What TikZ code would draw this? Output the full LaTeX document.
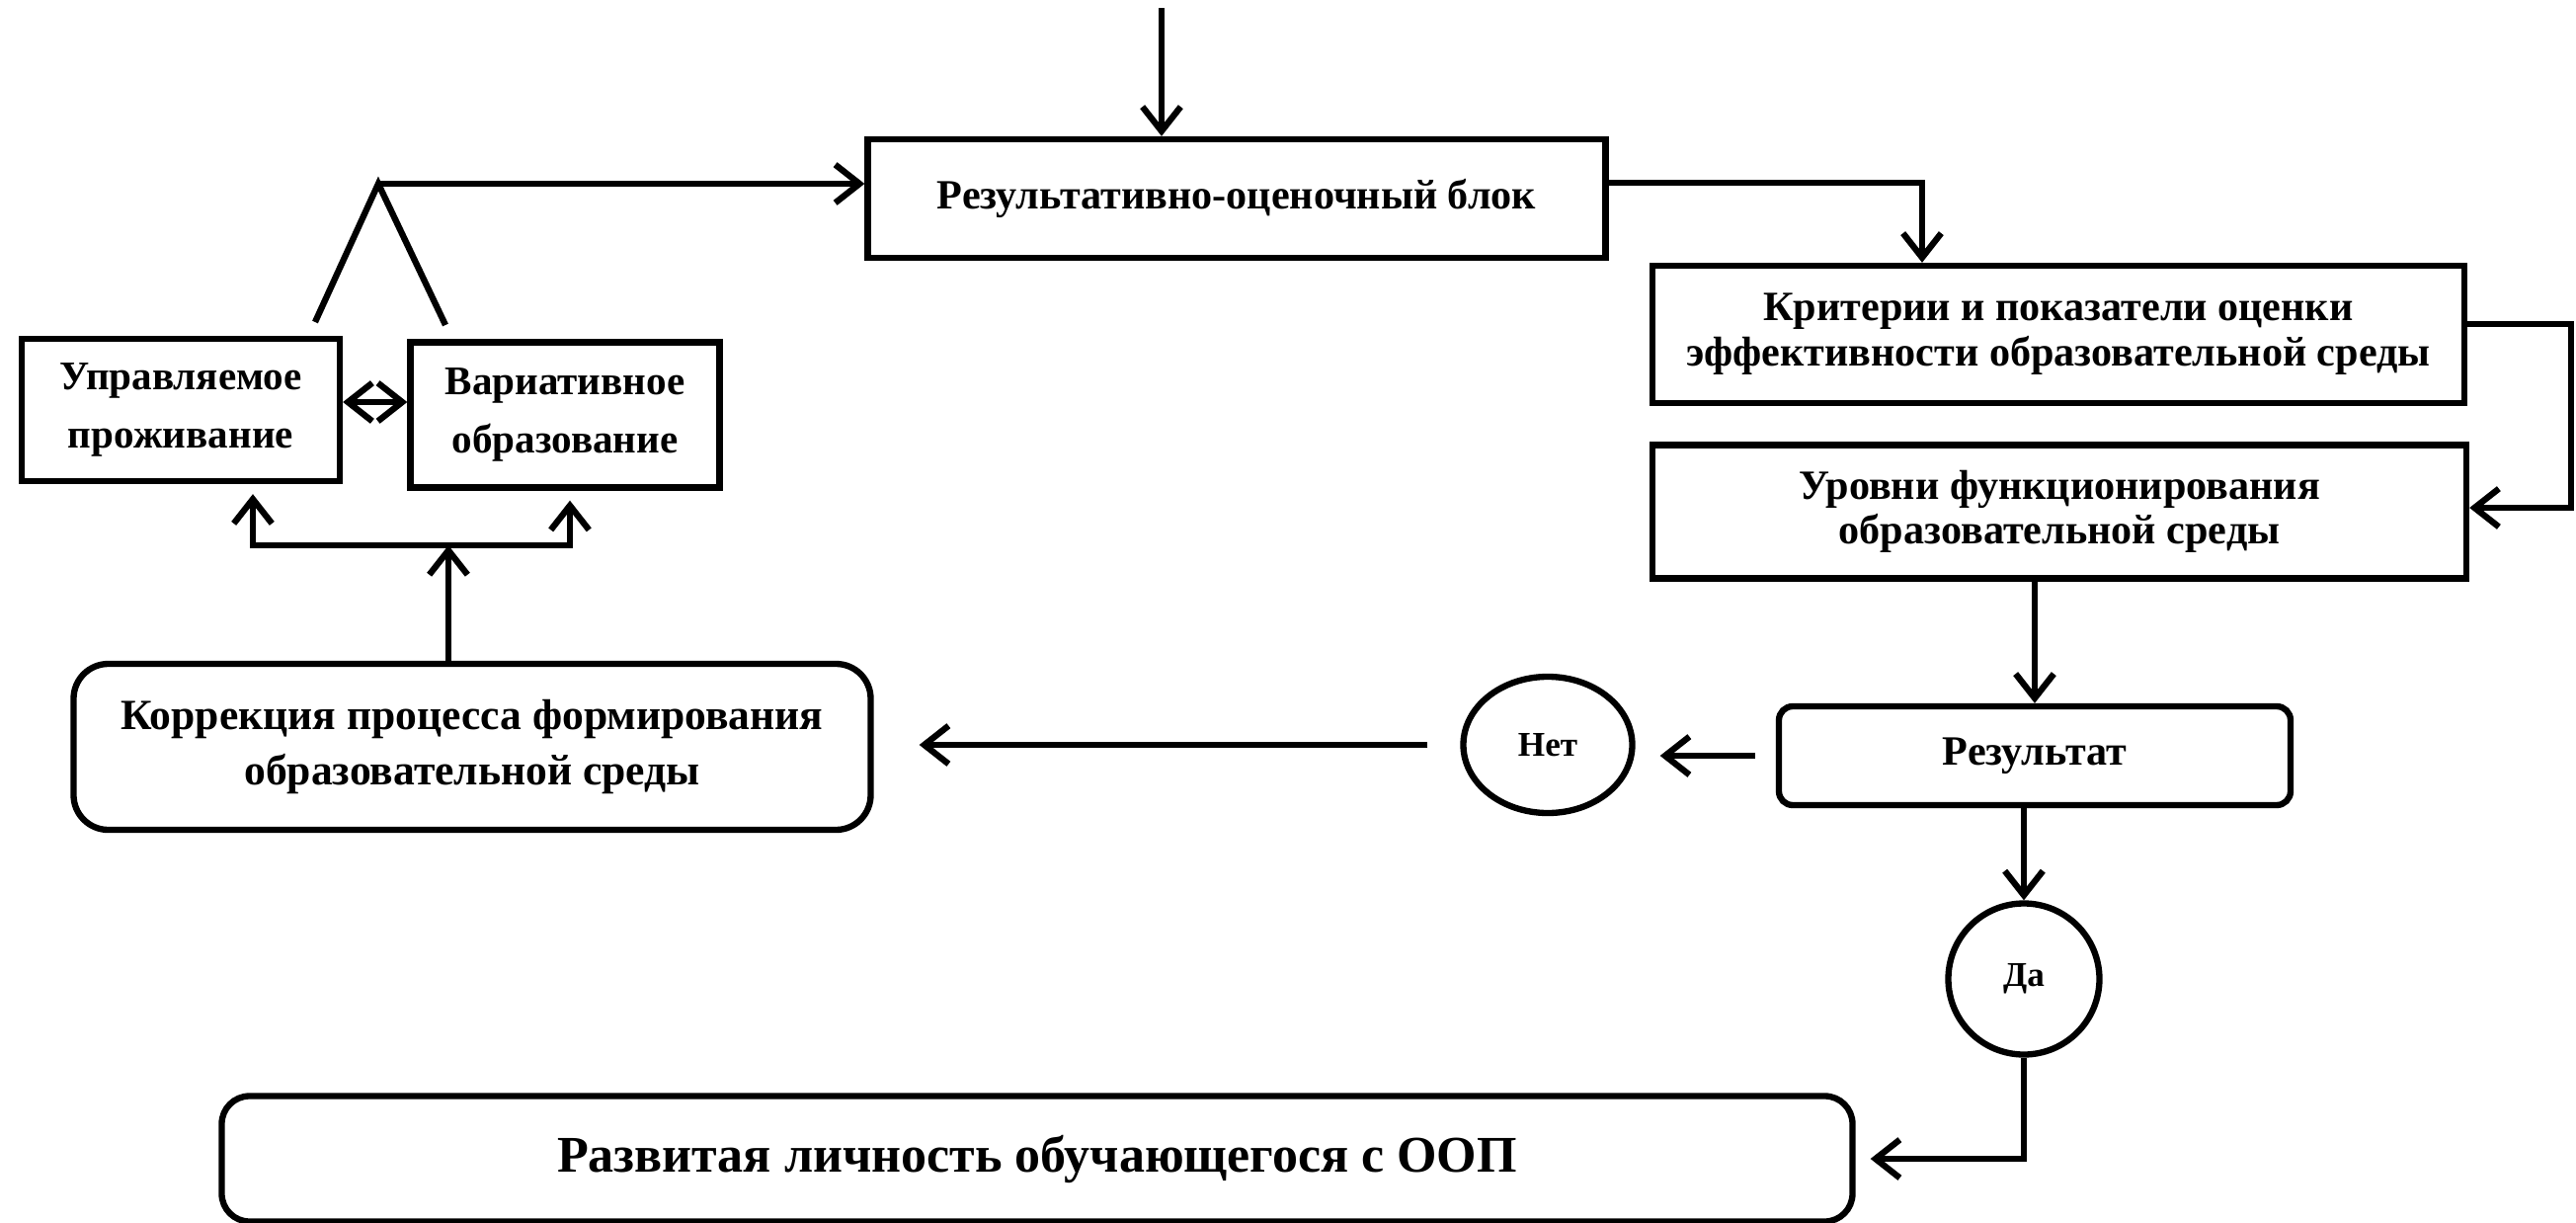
\documentclass[tikz,border=0pt]{standalone}
\usepackage{fontspec}
\setmainfont{Liberation Serif}
\usetikzlibrary{arrows.meta,positioning,shapes.geometric}

\tikzset{
  blk/.style={draw,line width=1.8pt,align=center,inner sep=2pt,
    font=\bfseries\fontsize{12}{13}\selectfont},
  rblk/.style={blk,rounded corners=4pt},
  oval/.style={draw,ellipse,line width=1.8pt,inner sep=0pt,
    font=\bfseries\fontsize{10}{12}\selectfont},
  arr/.style={line width=1.8pt,-{Straight Barb[length=7pt,width=11pt]}},
  arrboth/.style={line width=1.8pt,{Straight Barb[length=7pt,width=11pt]}-{Straight Barb[length=7pt,width=11pt]}}
}

\begin{document}
\begin{tikzpicture}

  \useasboundingbox (0,0) rectangle (26.08,-12.38);

  % ---- Top: result block ------------------------------------
  \node[blk,minimum width=7.47cm,minimum height=1.2cm] (rezblk) at (12.52,-2.01)
    {Результативно-оценочный блок};
  \coordinate (entry) at (11.76,-0.08);
  \draw[arr] (entry) -- (entry |- rezblk.north);

  % ---- Right column: criteria and levels --------------------
  \node[blk,minimum width=8.22cm,minimum height=1.39cm] (krit) at (20.84,-3.385)
    {Критерии и показатели оценки\\эффективности образовательной среды};
  \node[blk,minimum width=8.24cm,minimum height=1.35cm] (urov) at (20.85,-5.18)
    {Уровни функционирования\\образовательной среды};

  \coordinate (turnA) at (19.46,-1.85);
  \draw[arr] (rezblk.east |- turnA) -- (turnA) -- (turnA |- krit.north);

  % loop on the right edge
  \coordinate (loopT) at (26.03,-3.28);
  \coordinate (loopB) at (26.03,-5.14);
  \draw[arr] (krit.east |- loopT) -- (loopT) -- (loopB) -- (urov.east |- loopB);

  % ---- Result and decision ----------------------------------
  \node[rblk,minimum width=5.18cm,minimum height=1.0cm] (itog) at (20.6,-7.65) {Результат};
  \draw[arr] (itog.north |- urov.south) -- (itog.north);

  \node[oval,minimum width=1.71cm,minimum height=1.38cm] (net) at (15.67,-7.54) {Нет};
  \draw[arr,shorten <=0.21cm,shorten >=0.25cm] (itog.west) -- (itog.west -| net.east);

  \node[oval,circle,minimum size=1.53cm] (da) at (20.49,-9.91) {Да};
  \draw[arr] (da.north |- itog.south) -- (da.north);

  % ---- Left: correction and two branches --------------------
  \node[rblk,rounded corners=10pt,minimum width=8.07cm,minimum height=1.68cm,
    font=\bfseries\fontsize{12.4}{16}\selectfont] (korr) at (4.78,-7.56)
    {Коррекция процесса формирования\\образовательной среды};
  \draw[arr,shorten <=0.33cm,shorten >=0.46cm] (net.west) -- (net.west -| korr.east);

  \node[blk,minimum width=3.22cm,minimum height=1.44cm,
    font=\bfseries\fontsize{11.7}{17}\selectfont] (uprav) at (1.83,-4.15)
    {Управляемое\\проживание};
  \node[blk,minimum width=3.13cm,minimum height=1.47cm,
    font=\bfseries\fontsize{11.7}{17}\selectfont] (variat) at (5.72,-4.20)
    {Вариативное\\образование};
  \draw[arrboth] ([yshift=0.08cm]uprav.east) -- ([yshift=0.08cm]uprav.east -| variat.west);

  % fork under the branches
  \coordinate (forkM) at (4.54,-5.52);
  \coordinate (forkL) at (2.56,-5.52);
  \coordinate (forkR) at (5.77,-5.52);
  \draw[arr] (forkM |- korr.north) -- (forkM);
  \draw[arrboth,shorten <=0.1cm,shorten >=0.1cm]
    (forkL |- uprav.south) -- (forkL) -- (forkR) -- (forkR |- variat.south);

  % split above the branches
  \coordinate (peak) at (3.83,-1.86);
  \coordinate (legL) at (3.19,-3.26);
  \coordinate (legR) at (4.51,-3.29);
  \draw[line width=1.8pt] (legL) -- (peak) -- (legR);
  \draw[arr] (peak) -- (peak -| rezblk.west);

  % ---- Bottom: outcome --------------------------------------
  \node[rblk,rounded corners=8pt,minimum width=16.51cm,minimum height=1.27cm,
    font=\bfseries\fontsize{14.8}{18}\selectfont] (oop) at (10.5,-11.73)
    {Развитая личность обучающегося с ООП};
  \draw[arr,shorten >=0.15cm] (da.south) -- (da.south |- oop.east) -- (oop.east);

\end{tikzpicture}
\end{document}
